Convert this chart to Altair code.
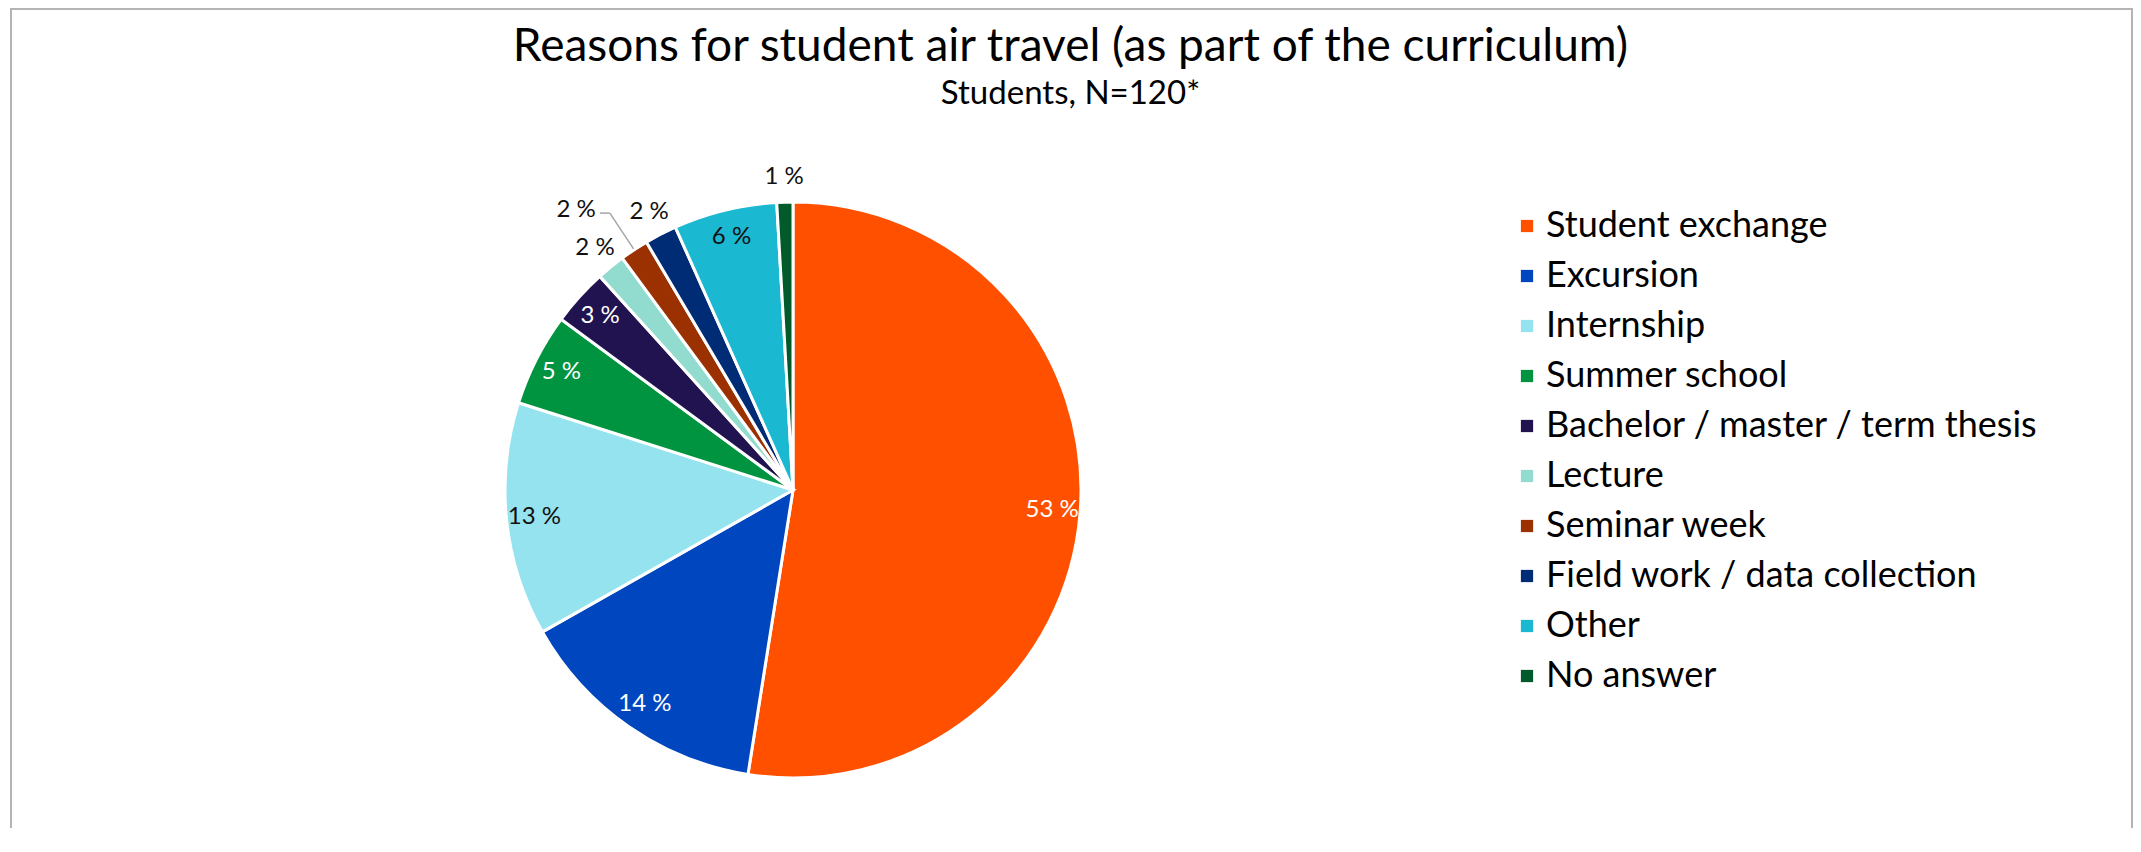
import altair as alt
import pandas as pd

# ---- data ----
categories = [
    "Student exchange",
    "Excursion",
    "Internship",
    "Summer school",
    "Bachelor / master / term thesis",
    "Lecture",
    "Seminar week",
    "Field work / data collection",
    "Other",
    "No answer",
]
shares = [52.5, 14.3, 13.1, 5.2, 3.2, 1.6, 1.6, 1.8, 5.8, 0.9]
labels = ["53 %", "14 %", "13 %", "5 %", "3 %", "2 %", "2 %", "2 %", "6 %", "1 %"]

colors = ["#FF5000", "#0046BE", "#96E3F0", "#009440", "#21134F",
          "#92DBCF", "#9B3000", "#002B75", "#1BB8D2", "#005A2B"]
dark_fill = {"Student exchange", "Excursion", "Summer school",
             "Bachelor / master / term thesis"}
leader_labels = {"Seminar week"}

FONT = "Lato"
CX, CY, R = 785, 382, 288
R_IN, R_OUT, R_LEADER = 260, 313, 332

df = pd.DataFrame({
    "category": categories,
    "share": shares,
    "label": labels,
    "idx": list(range(len(categories))),
})
df["inside"] = df["share"] >= 2.5
df["dark"] = [c in dark_fill for c in categories]
df["leader"] = [c in leader_labels for c in categories]
df["txt_in"] = [lb if ins else "" for lb, ins in zip(df["label"], df["inside"])]
df["txt_out"] = [lb if (not ins and not ld) else ""
                 for lb, ins, ld in zip(df["label"], df["inside"], df["leader"])]

base = alt.Chart(df)

pie = base.mark_arc(outerRadius=R, stroke="white", strokeWidth=3).encode(
    theta=alt.Theta("share:Q", stack=True),
    order=alt.Order("idx:Q"),
    color=alt.Color(
        "category:N",
        scale=alt.Scale(domain=categories, range=colors),
        sort=categories,
        legend=alt.Legend(
            title=None,
            orient="none",
            legendX=1501,
            legendY=100,
            symbolType="square",
            symbolSize=150,
            symbolStrokeWidth=0,
            labelFont=FONT,
            labelFontSize=36,
            labelColor="#000000",
            labelOffset=1,
            rowPadding=14,
            padding=0,
            labelLimit=700,
        ),
    ),
    x=alt.value(CX),
    y=alt.value(CY),
)

text_in = base.mark_text(
    font=FONT, fontSize=24, align="center", baseline="middle", radius=R_IN
).encode(
    theta=alt.Theta("share:Q", stack=True),
    order=alt.Order("idx:Q"),
    text="txt_in:N",
    fill=alt.condition("datum.dark", alt.value("#FFFFFF"), alt.value("#111111")),
    x=alt.value(CX),
    y=alt.value(CY),
)

text_out = base.mark_text(
    font=FONT, fontSize=24, align="center", baseline="middle", radius=R_OUT,
    color="#111111",
).encode(
    theta=alt.Theta("share:Q", stack=True),
    order=alt.Order("idx:Q"),
    text="txt_out:N",
    x=alt.value(CX),
    y=alt.value(CY),
)

# geometry for the label with a leader line
geo = base.transform_window(
    cum="sum(share)", sort=[alt.SortField("idx")], frame=[None, 0]
).transform_joinaggregate(total="sum(share)").transform_calculate(
    mid="(datum.cum - datum.share / 2) / datum.total * 2 * PI",
).transform_calculate(
    ex=f"{CX} + {R + 1} * sin(datum.mid)",
    ey=f"{CY} - {R + 1} * cos(datum.mid)",
    bx=f"{CX} + {R_LEADER} * sin(datum.mid)",
    by=f"{CY} - {R_LEADER} * cos(datum.mid)",
).transform_calculate(
    hx="datum.bx - 10",
).transform_filter("datum.leader")

leader1 = geo.mark_rule(color="#A6A6A6", strokeWidth=1.5).encode(
    x=alt.X("ex:Q", scale=None), y=alt.Y("ey:Q", scale=None),
    x2="bx:Q", y2="by:Q",
)
leader2 = geo.mark_rule(color="#A6A6A6", strokeWidth=1.5).encode(
    x=alt.X("hx:Q", scale=None), y=alt.Y("by:Q", scale=None),
    x2="bx:Q", y2="by:Q",
)
leader_text = geo.mark_text(
    font=FONT, fontSize=24, align="right", baseline="middle", dx=-4, dy=-3,
    color="#111111",
).encode(
    x=alt.X("hx:Q", scale=None), y=alt.Y("by:Q", scale=None), text="label:N",
)

border = alt.Chart(pd.DataFrame({"b": [0]})).mark_rect(
    fill=None, stroke="#B4B4B4", strokeWidth=2
).encode(
    x=alt.value(3), x2=alt.value(2124), y=alt.value(-99), y2=alt.value(760)
)

chart = alt.layer(
    border, pie, text_in, text_out, leader1, leader2, leader_text
).properties(
    width=2125,
    height=720,
    autosize=alt.AutoSizeParams(type="none"),
    padding={"left": 0, "right": 0, "top": 100, "bottom": 0},
    title=alt.TitleParams(
        text="Reasons for student air travel (as part of the curriculum)",
        subtitle="Students, N=120*",
        font=FONT,
        fontSize=46,
        fontWeight="normal",
        color="#000000",
        subtitleFont=FONT,
        subtitleFontSize=33,
        subtitleColor="#000000",
        subtitlePadding=7,
        anchor="middle",
        frame="group",
        offset=-104,
    ),
).configure_view(stroke=None)

chart.save("out.html", embed_options={"renderer": "svg", "actions": False})
